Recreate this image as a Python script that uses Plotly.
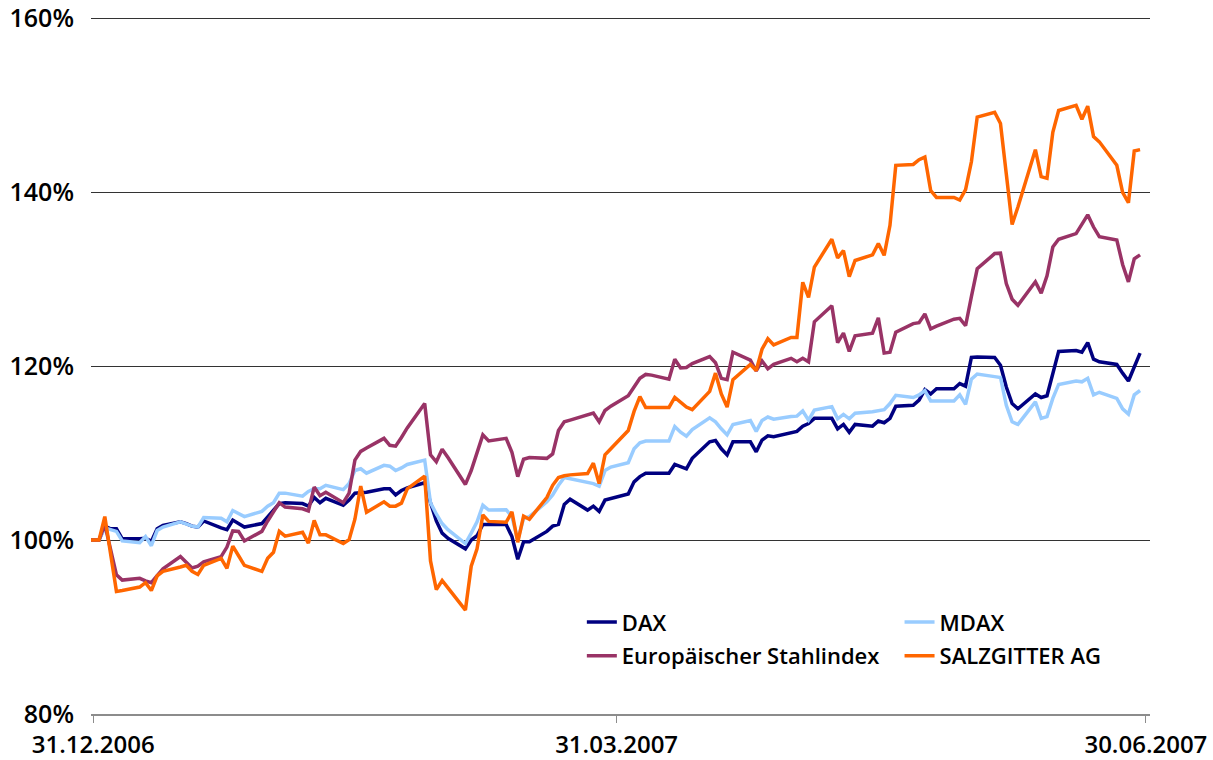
import pandas as pd
import plotly.graph_objects as go

# trading calendar: base day + all weekdays of H1 2007
dates = ["2006-12-29"] + [d.strftime("%Y-%m-%d") for d in pd.bdate_range("2007-01-01", "2007-06-29")]

series_names = ["DAX", "MDAX", "Europäischer Stahlindex", "SALZGITTER AG"]

dax = [100,
       100, 101.6, 101.3, 101.3, 100.15, 100.15, 100.2, 99.85, 101.3, 101.7, 102.1, 101.9, 101.6, 101.5, 102.2,
       101.4, 101.2, 102.3, 101.9, 101.5, 101.9, 102.7, 103.4,
       104.2, 104.3, 104.2, 103.9, 104.9, 104.3, 104.8, 104.0, 104.6, 105.4, 105.45, 105.5, 105.9, 105.9, 105.2,
       105.7, 106.0, 106.6, 104.3, 102.2,
       100.8, 100.2, 99.0, 100.0, 100.5, 101.8, 101.8, 101.8, 100.4, 97.8, 99.8, 99.8, 101.0, 101.6, 101.8,
       104.1, 104.7, 103.45, 103.9, 103.3, 104.6, 104.8,
       105.3, 106.7, 107.3, 107.7, 107.7, 107.7, 108.7, 108.4, 108.2, 109.4, 111.3, 111.45, 110.5, 109.8, 111.3,
       111.3, 110.15, 111.5, 112.0, 111.9, 112.4,
       112.5, 113.1, 113.4, 114.0, 114.0, 112.8, 113.3, 112.4, 113.3, 113.1, 113.7, 113.5, 114.0, 115.4, 115.5,
       116.1, 117.3, 116.8, 117.4, 117.4, 118.0, 117.7, 121.0,
       121.05, 121.0, 120.1, 117.6, 115.7, 115.1, 116.8, 116.4, 116.6, 119.2, 121.7, 121.8, 121.6, 122.7, 120.8,
       120.5, 120.2, 119.2, 118.3, 119.9, 121.5]

mdax = [100,
        100, 101.4, 101.2, 101.0, 99.9, 99.7, 100.4, 99.35, 101.1, 101.5, 102.1, 101.8, 101.6, 101.5, 102.6,
        102.5, 102.1, 103.4, 103.0, 102.7, 103.3, 103.9, 104.3,
        105.4, 105.4, 105.05, 105.6, 105.9, 105.9, 106.3, 105.8, 106.5, 108.0, 108.2, 107.7, 108.6, 108.5, 108.0,
        108.3, 108.7, 109.2, 104.3, 103.0,
        101.9, 101.2, 99.6, 100.8, 102.1, 104.0, 103.45, 103.5, 102.7, 100.0, 102.5, 102.7, 104.4, 105.2, 106.3,
        107.2, 107.05, 106.7, 106.5, 106.2, 108.0, 108.4,
        108.9, 110.5, 111.2, 111.4, 111.4, 111.4, 113.05, 112.4, 111.95, 112.7, 114.05, 113.6, 112.8, 112.1, 113.3,
        113.75, 112.5, 113.75, 114.15, 113.9, 114.2,
        114.25, 114.85, 113.8, 114.95, 115.35, 113.95, 114.45, 113.95, 114.6, 114.75, 114.9, 115.0, 115.7, 116.65,
        116.4, 116.7, 117.2, 116.0, 116.0, 116.0, 116.7, 115.6, 118.5,
        119.1, 118.8, 118.7, 115.5, 113.6, 113.3, 115.9, 114.0, 114.2, 116.3, 117.9, 118.3, 118.2, 118.6, 116.7,
        117.0, 116.3, 115.1, 114.5, 116.7, 117.2]

stahl = [100,
         100, 101.8, 99.0, 96.0, 95.4, 95.6, 95.3, 95.1, 95.9, 96.7, 98.1, 97.4, 96.8, 97.0, 97.5,
         98.1, 99.2, 101.05, 101.0, 99.9, 101.0, 102.2, 103.3,
         104.3, 103.8, 103.6, 103.35, 106.1, 105.1, 105.5, 104.3, 105.4, 109.2, 110.2, 110.6, 111.7, 110.9, 110.8,
         111.8, 112.9, 115.7, 109.8, 109.0,
         110.45, 109.5, 106.4, 108.0, 110.0, 112.1, 111.4, 111.7, 110.1, 107.3, 109.3, 109.5, 109.4, 109.9, 112.6,
         113.6, 113.8, 114.4, 114.6, 113.6, 114.9, 115.4,
         116.6, 117.6, 118.6, 119.05, 118.97, 118.5, 120.8, 119.8, 119.85, 120.3, 121.1, 120.4, 118.6, 118.45, 121.6,
         120.7, 119.45, 120.6, 119.7, 120.2, 120.9,
         120.5, 120.9, 120.5, 125.1, 126.95, 122.7, 123.8, 121.7, 123.5, 123.8, 125.55, 121.5, 121.6, 123.9, 124.9,
         125.0, 126.0, 124.3, 124.6, 125.4, 125.5, 124.65, 128.0,
         131.2, 132.95, 133.0, 129.5, 127.7, 127.0, 129.7, 128.4, 130.4, 133.7, 134.6, 135.25, 136.3, 137.4, 136.0,
         134.9, 134.5, 131.7, 129.7, 132.35, 132.8]

salzgitter = [100,
              100, 102.7, 98.4, 94.1, 94.2, 94.6, 95.1, 94.2, 95.9, 96.4, 96.9, 97.1, 96.4, 96.05, 97.1,
              97.9, 96.75, 99.3, 98.2, 97.1, 96.4, 97.9, 98.6,
              101.0, 100.45, 100.9, 99.65, 102.25, 100.6, 100.6, 99.6, 100.05, 102.4, 106.2, 103.2, 104.4, 103.9,
              103.9, 104.25, 105.9, 107.35, 97.6, 94.3,
              95.35, 94.5, 91.95, 97.0, 99.0, 102.9, 102.15, 102.05, 103.25, 99.75, 102.75, 102.4, 104.9, 106.3,
              107.2, 107.4, 107.5, 107.65, 108.85, 106.5, 109.8, 110.5,
              112.6, 114.8, 116.5, 115.25, 115.25, 115.25, 116.4, 115.8, 115.3, 115.0, 117.1, 119.2, 116.8, 115.3,
              118.45, 120.2, 119.5, 121.95, 123.15, 122.45, 123.3,
              123.3, 129.65, 127.9, 131.4, 134.6, 132.45, 133.3, 130.3, 132.15, 132.8, 134.1, 132.75, 136.2, 143.1,
              143.2, 143.75, 144.05, 140.2, 139.4, 139.4, 139.1, 140.3, 143.5,
              148.65, 149.2, 147.9, 142.1, 136.3, 138.3, 144.9, 141.8, 141.6, 146.9, 149.4, 150.0, 148.4, 149.9,
              146.4, 145.8, 143.1, 140.0, 138.8, 144.75, 144.9]

y_ticks = [80, 100, 120, 140, 160]
y_labels = ["80%", "100%", "120%", "140%", "160%"]
x_ticks = ["2006-12-31", "2007-03-31", "2007-06-30"]
x_labels = ["31.12.2006", "31.03.2007", "30.06.2007"]

colors = ["#000080", "#99CCFF", "#993366", "#FF6600"]
legends = ["legend", "legend2", "legend", "legend2"]

y_font = dict(family="Open Sans", size=25, color="#000000", weight=600)
x_font = dict(family="Open Sans", size=24, color="#000000", weight=600)
leg_font = dict(family="Open Sans", size=22, color="#000000", weight=600)

fig = go.Figure()
for name, vals, col, leg in zip(series_names, [dax, mdax, stahl, salzgitter], colors, legends):
    fig.add_trace(go.Scatter(x=dates, y=vals, name=name, mode="lines",
                             line=dict(color=col, width=3.5), legend=leg, legendgroup=name))

fig.update_layout(
    width=1213, height=760,
    margin=dict(l=91, r=63, t=14, b=46, autoexpand=False),
    paper_bgcolor="white", plot_bgcolor="white",
    showlegend=True,
    xaxis=dict(type="date", range=["2006-12-30 15:00", "2007-06-30 17:00"], automargin=False,
               tickvals=x_ticks, ticktext=x_labels, showgrid=False, zeroline=False,
               showline=True, linecolor="#8c8c8c", linewidth=2,
               ticks="outside", ticklen=7, tickwidth=1, tickcolor="#8c8c8c",
               tickfont=x_font, ticklabelstandoff=1),
    yaxis=dict(range=[80, 160.5], tickvals=y_ticks, ticktext=y_labels, automargin=False,
               showgrid=True, gridcolor="#333333", gridwidth=1, zeroline=False,
               showline=False, ticks="", tickfont=y_font, ticklabelstandoff=16),
    legend=dict(x=0.4635, y=0.161, xanchor="left", yanchor="top", bgcolor="rgba(0,0,0,0)",
                font=leg_font, tracegroupgap=2, itemwidth=30),
    legend2=dict(x=0.7635, y=0.161, xanchor="left", yanchor="top", bgcolor="rgba(0,0,0,0)",
                 font=leg_font, tracegroupgap=2, itemwidth=30),
)

fig.write_html("out.html", config={"displayModeBar": False},
               post_script="document.body.style.margin='0';")
